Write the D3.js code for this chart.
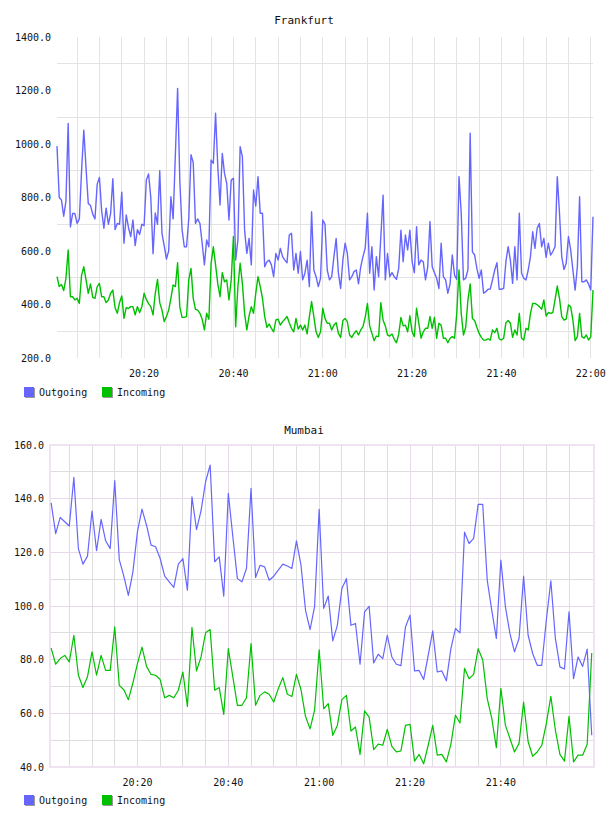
<!DOCTYPE html>
<html>
<head>
<meta charset="utf-8">
<script src="https://cdnjs.cloudflare.com/ajax/libs/d3/7.8.5/d3.min.js"></script>
<style>
  body { margin: 0; background: #fff; }
  text { font-family: "DejaVu Sans Mono", monospace; fill: #111; }
</style>
</head>
<body>
<div id="charts"></div>
<script>
// Data
// ==============================
var seriesNames = ["Outgoing", "Incoming"];
var seriesColors = ["#6666ff", "#00c000"];

// Frankfurt: one sample every 30 s starting 20:00:30
var frankfurtStart = "20:00:30";
var frankfurtStep = 30;
var frankfurtOutgoing = [
  992, 800, 790, 730, 786, 1077, 690, 740, 740, 703,
  720, 900, 1052, 910, 778, 770, 738, 720, 850, 875,
  750, 685, 760, 700, 740, 870, 680, 703, 700, 820,
  629, 735, 688, 654, 716, 620, 680, 662, 700, 695,
  865, 888, 800, 590, 742, 700, 900, 666, 620, 570,
  600, 803, 720, 960, 1208, 860, 680, 616, 616, 720,
  960, 930, 703, 720, 703, 629, 548, 641, 616, 940,
  928, 1115, 915, 772, 965, 890, 853, 716, 865, 872,
  566, 641, 990, 953, 678, 591, 647, 548, 828, 768,
  878, 741, 741, 541, 560, 566, 548, 504, 591, 566,
  610, 579, 566, 556, 660, 666, 529, 591, 517, 598,
  492, 517, 566, 467, 747, 529, 504, 467, 498, 716,
  700, 529, 492, 504, 579, 647, 517, 460, 566, 629,
  591, 492, 504, 523, 529, 477, 541, 579, 610, 741,
  517, 616, 454, 579, 504, 653, 809, 492, 591, 504,
  519, 504, 494, 535, 678, 560, 660, 604, 678, 560,
  519, 691, 548, 566, 560, 492, 541, 710, 541, 519,
  498, 460, 629, 504, 492, 442, 477, 585, 510, 494,
  878, 741, 492, 498, 530, 1040, 597, 585, 535, 498,
  529, 442, 448, 457, 458, 492, 529, 556, 457, 457,
  460, 560, 616, 566, 479, 616, 492, 741, 517, 498,
  492, 529, 579, 672, 610, 685, 703, 616, 647, 576,
  629, 585, 598, 616, 878, 741, 579, 531, 554, 654,
  604, 529, 454, 541, 803, 485, 485, 492, 477, 454, 728
];
var frankfurtIncoming = [
  504, 467, 475, 452, 498, 604, 429, 429, 417, 423,
  404, 510, 541, 492, 442, 477, 427, 423, 467, 479,
  429, 429, 407, 417, 442, 454, 388, 367, 407, 432,
  348, 388, 385, 392, 392, 361, 392, 370, 392, 442,
  419, 403, 392, 361, 442, 494, 407, 379, 336, 355,
  379, 423, 473, 467, 556, 390, 352, 352, 355, 492,
  535, 423, 382, 379, 367, 345, 305, 367, 345, 554,
  616, 548, 477, 429, 519, 485, 492, 417, 492, 654,
  317, 467, 554, 479, 367, 305, 357, 392, 367, 442,
  504, 467, 423, 355, 315, 327, 311, 298, 342, 345,
  323, 336, 345, 355, 332, 311, 298, 348, 308, 323,
  305, 323, 290, 355, 411, 355, 298, 277, 298, 386,
  348, 330, 330, 305, 323, 332, 292, 277, 340, 348,
  336, 286, 277, 292, 302, 286, 305, 317, 352, 404,
  320, 292, 265, 282, 280, 407, 342, 320, 286, 282,
  290, 270, 257, 289, 352, 320, 323, 298, 358, 298,
  280, 386, 330, 274, 298, 311, 311, 355, 311, 352,
  274, 330, 323, 274, 274, 257, 274, 280, 274, 367,
  529, 367, 286, 315, 417, 477, 348, 340, 315, 292,
  277, 267, 267, 272, 267, 305, 295, 311, 272, 267,
  274, 332, 340, 330, 277, 305, 286, 367, 274, 267,
  311, 305, 367, 404, 404, 399, 392, 382, 417, 357,
  370, 367, 370, 417, 469, 423, 355, 342, 345, 398,
  392, 342, 265, 280, 367, 280, 274, 286, 267, 280, 454
];
var frankfurtYLabels = [200, 400, 600, 800, 1000, 1200, 1400];
var frankfurtYGrid = [300, 500, 700, 900, 1100, 1300];
var frankfurtTimeLabels = ["20:20", "20:40", "21:00", "21:20", "21:40", "22:00"];

// Mumbai: one sample per minute starting 20:01
var mumbaiStart = "20:01:00";
var mumbaiStep = 60;
var mumbaiOutgoing = [
  138.4, 127.0, 133.0, 131.4, 129.8, 147.9, 121.4, 115.6, 118.6, 135.4,
  120.6, 132.3, 124.3, 121.4, 146.7, 117.3, 111.1, 104.0, 112.7, 127.7,
  136.1, 130.1, 122.7, 122.1, 117.7, 111.1, 109.0, 106.9, 115.6, 117.7,
  105.9, 140.7, 128.5, 135.5, 146.3, 152.5, 116.5, 118.3, 103.7, 142.0,
  125.8, 110.2, 109.0, 114.0, 143.8, 110.6, 115.2, 114.6, 109.6, 111.1,
  113.4, 115.6, 114.9, 114.0, 124.3, 115.2, 98.4, 91.2, 99.9, 136.0,
  99.1, 103.7, 87.0, 92.8, 106.5, 110.2, 92.8, 93.5, 78.3, 97.8,
  99.9, 78.8, 82.0, 80.4, 89.1, 81.0, 78.3, 77.8, 92.2, 96.6,
  75.8, 76.0, 72.6, 81.6, 90.7, 75.4, 75.8, 72.1, 84.1, 91.6,
  90.0, 127.5, 123.3, 125.2, 137.9, 137.9, 109.6, 98.4, 87.9, 117.1,
  99.7, 89.7, 82.9, 87.9, 111.1, 89.1, 82.3, 77.9, 77.9, 94.7,
  109.4, 87.9, 77.3, 76.5, 97.8, 72.9, 81.0, 77.5, 83.9, 51.8
];
var mumbaiIncoming = [
  84.3, 78.3, 80.4, 81.6, 79.2, 89.1, 74.2, 69.6, 73.6, 82.9,
  74.2, 81.6, 76.0, 76.0, 92.2, 70.4, 68.8, 65.1, 71.3, 78.5,
  84.7, 77.5, 74.5, 74.2, 72.6, 65.8, 66.7, 65.8, 68.6, 75.4,
  62.6, 92.0, 75.8, 81.0, 90.0, 91.2, 68.6, 69.6, 59.6, 84.1,
  73.6, 63.0, 63.0, 65.8, 86.0, 63.0, 66.7, 68.0, 67.1, 64.2,
  69.2, 73.3, 67.1, 66.3, 74.5, 68.8, 58.8, 54.2, 61.3, 83.7,
  61.7, 63.6, 51.8, 55.5, 65.1, 66.7, 53.4, 54.9, 44.7, 60.9,
  58.6, 46.5, 48.5, 48.1, 54.0, 47.7, 45.6, 46.0, 55.5, 55.9,
  42.2, 44.7, 41.2, 48.1, 55.5, 44.4, 44.7, 41.9, 48.5, 59.3,
  56.4, 76.8, 72.9, 74.5, 84.1, 80.0, 65.5, 58.1, 47.2, 69.3,
  55.5, 50.6, 45.6, 48.8, 64.2, 49.4, 44.0, 45.6, 48.1, 56.2,
  66.3, 53.7, 44.7, 42.2, 58.9, 41.9, 44.4, 44.4, 48.5, 82.5
];
var mumbaiYLabels = [40, 60, 80, 100, 120, 140, 160];
var mumbaiYGrid = [50, 70, 90, 110, 130, 150];
var mumbaiTimeLabels = ["20:20", "20:40", "21:00", "21:20", "21:40"];

var svgWidth = 608;
var svgHeight = 816;

var parseTime = d3.timeParse("%H:%M:%S");
var parseTick = d3.timeParse("%H:%M");

var svg = d3.select("#charts")
  .append("svg")
  .attr("width", svgWidth)
  .attr("height", svgHeight);

function makeTimes(start, step, n) {
  var t0 = parseTime(start);
  return d3.range(n).map(i => d3.timeSecond.offset(t0, i * step));
}

// One panel: title, grid, two lines, axis labels and legend
// ==============================
function drawPanel(cfg) {
  var times = makeTimes(cfg.start, cfg.step, cfg.outgoing.length);
  var lastTime = +times[times.length - 1];

  var xScale = d3.scaleTime()
    .domain(cfg.xDomain.map(parseTime))
    .range([cfg.left, cfg.right]);

  var yScale = d3.scaleLinear()
    .domain(cfg.yDomain)
    .range([cfg.bottom, cfg.top]);

  var g = svg.append("g");

  // title
  g.append("text")
    .attr("x", 304)
    .attr("y", cfg.titleY)
    .attr("text-anchor", "middle")
    .style("font-size", "11px")
    .text(cfg.title);

  // grid
  var grid = g.append("g").attr("shape-rendering", "crispEdges");
  var majorTicks = cfg.timeLabels.map(s => +parseTick(s));

  grid.selectAll(".vgrid")
    .data(xScale.ticks(d3.timeMinute.every(5)).filter(t => +t < lastTime))
    .enter()
    .append("line")
    .attr("x1", d => xScale(d))
    .attr("x2", d => xScale(d))
    .attr("y1", cfg.top)
    .attr("y2", cfg.bottom)
    .attr("stroke", d => majorTicks.indexOf(+d) >= 0 ? cfg.majorColor : cfg.minorColor);

  var hLines = cfg.yGrid.map(v => ({ v: v, major: false }));
  if (cfg.gridOnLabels) {
    hLines = hLines.concat(cfg.yLabels.map(v => ({ v: v, major: true })));
  }
  grid.selectAll(".hgrid")
    .data(hLines)
    .enter()
    .append("line")
    .attr("x1", cfg.left)
    .attr("x2", cfg.right)
    .attr("y1", d => yScale(d.v))
    .attr("y2", d => yScale(d.v))
    .attr("stroke", d => d.major ? cfg.majorColor : cfg.minorColor);

  if (cfg.border) {
    grid.append("rect")
      .attr("x", cfg.left)
      .attr("y", cfg.top)
      .attr("width", cfg.right - cfg.left)
      .attr("height", cfg.bottom - cfg.top)
      .attr("fill", "none")
      .attr("stroke", cfg.border)
      .attr("stroke-width", 1.5);
  }

  // lines
  var line = d3.line()
    .x((d, i) => xScale(times[i]))
    .y(d => yScale(d));

  [cfg.outgoing, cfg.incoming].forEach(function(values, k) {
    g.append("path")
      .datum(values)
      .attr("d", line)
      .attr("fill", "none")
      .attr("stroke", seriesColors[k])
      .attr("stroke-width", cfg.lineWidth)
      .attr("stroke-linejoin", "round");
  });

  // y labels
  g.selectAll(".ylab")
    .data(cfg.yLabels)
    .enter()
    .append("text")
    .attr("x", cfg.left - 6)
    .attr("y", d => yScale(d))
    .attr("dy", "0.35em")
    .attr("text-anchor", "end")
    .style("font-size", "10px")
    .text(d => d.toFixed(1));

  // time labels
  g.selectAll(".xlab")
    .data(cfg.timeLabels)
    .enter()
    .append("text")
    .attr("x", d => xScale(parseTick(d)))
    .attr("y", cfg.bottom + 15)
    .attr("dy", "0.35em")
    .attr("text-anchor", "middle")
    .style("font-size", "10px")
    .text(d => d);

  // legend
  var legend = g.selectAll(".legend")
    .data(seriesNames)
    .enter()
    .append("g")
    .attr("transform", (d, i) => `translate(${24 + i * 78}, ${cfg.legendY})`);

  legend.append("rect")
    .attr("x", 1).attr("y", -4)
    .attr("width", 10).attr("height", 10)
    .attr("fill", "#9a9a9a");

  legend.append("rect")
    .attr("x", 0).attr("y", -5)
    .attr("width", 10).attr("height", 10)
    .attr("fill", (d, i) => seriesColors[i]);

  legend.append("text")
    .attr("x", 15)
    .attr("y", 0)
    .attr("dy", "0.35em")
    .style("font-size", "10px")
    .text(d => d);
}

drawPanel({
  title: "Frankfurt",
  titleY: 24,
  start: frankfurtStart,
  step: frankfurtStep,
  outgoing: frankfurtOutgoing,
  incoming: frankfurtIncoming,
  xDomain: ["20:00:30", "22:00:30"],
  yDomain: [200, 1400],
  yLabels: frankfurtYLabels,
  yGrid: frankfurtYGrid,
  timeLabels: frankfurtTimeLabels,
  left: 57, right: 593, top: 37, bottom: 358,
  minorColor: "#e3e3e3",
  majorColor: "#e3e3e3",
  gridOnLabels: false,
  border: null,
  lineWidth: 1.4,
  legendY: 392
});

drawPanel({
  title: "Mumbai",
  titleY: 434,
  start: mumbaiStart,
  step: mumbaiStep,
  outgoing: mumbaiOutgoing,
  incoming: mumbaiIncoming,
  xDomain: ["20:00:45", "22:00:30"],
  yDomain: [40, 160],
  yLabels: mumbaiYLabels,
  yGrid: mumbaiYGrid,
  timeLabels: mumbaiTimeLabels,
  left: 50, right: 594, top: 445, bottom: 767,
  minorColor: "#dedede",
  majorColor: "#e8d8ec",
  gridOnLabels: true,
  border: "#efe2f1",
  lineWidth: 1.2,
  legendY: 800
});
</script>
</body>
</html>
